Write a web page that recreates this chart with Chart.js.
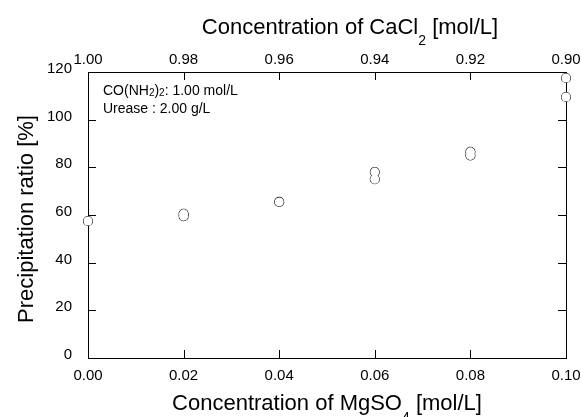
<!DOCTYPE html>
<html>
<head>
<meta charset="utf-8">
<script src="https://cdn.jsdelivr.net/npm/chart.js@4/dist/chart.umd.min.js"></script>
<style>
  html, body { margin: 0; padding: 0; background: #fff; }
  #wrap { width: 581px; height: 417px; }
</style>
</head>
<body>
<div id="wrap"><canvas id="chart" width="581" height="417"></canvas></div>
<script>
'use strict';

// data
const mgso4 = [0.00, 0.02, 0.02, 0.04, 0.06, 0.06, 0.08, 0.08, 0.10, 0.10];
const ratio = [57.5, 60.5, 59.5, 65.5, 78, 75, 86.5, 85, 117.5, 109.5];

const mgTicks = [0.00, 0.02, 0.04, 0.06, 0.08, 0.10];
const caTicks = [1.00, 0.98, 0.96, 0.94, 0.92, 0.90];
const yTicks = [0, 20, 40, 60, 80, 100, 120];

const FONT = '"Liberation Sans", Arial, sans-serif';
const points = mgso4.map((x, i) => ({ x: x, y: ratio[i] }));

function fixTicks(list) {
	return function(scale) {
		scale.ticks = list.map(v => ({ value: v }));
	};
}

// fixed box sizes so the plot area sits where it does in the picture
function fitH(h) {
	return function(s) {
		s.height = h;
		s.paddingLeft = 0;
		s.paddingRight = 0;
	};
}
function fitW(w) {
	return function(s) {
		s.width = w;
		s.paddingTop = 0;
		s.paddingBottom = 0;
	};
}

// ticks drawn inward + axis titles with subscripts + annotation
const decor = {
	id: 'decor',
	beforeDatasetsDraw(chart) {
		const ctx = chart.ctx;
		const a = chart.chartArea;
		const s = chart.scales;
		const len = 8;
		ctx.save();
		ctx.strokeStyle = '#000';
		ctx.lineWidth = 1;
		ctx.beginPath();
		mgTicks.forEach(v => {
			const px = Math.round(s.x.getPixelForValue(v)) + 0.5;
			ctx.moveTo(px, a.bottom);
			ctx.lineTo(px, a.bottom - len);
		});
		caTicks.forEach(v => {
			const px = Math.round(s.x2.getPixelForValue(v)) + 0.5;
			ctx.moveTo(px, a.top);
			ctx.lineTo(px, a.top + len);
		});
		yTicks.forEach(v => {
			const py = Math.round(s.y.getPixelForValue(v)) + 0.5;
			ctx.moveTo(a.left, py);
			ctx.lineTo(a.left + len, py);
			ctx.moveTo(a.right, py);
			ctx.lineTo(a.right - len, py);
		});
		ctx.stroke();
		ctx.restore();
	},
	afterDraw(chart) {
		const ctx = chart.ctx;
		const a = chart.chartArea;
		ctx.save();
		ctx.fillStyle = '#000';
		ctx.textBaseline = 'alphabetic';

		// pieces: [text, size, baseline shift]
		function run(parts, x, y, center) {
			let w = 0;
			parts.forEach(p => {
				ctx.font = p[1] + 'px ' + FONT;
				w += ctx.measureText(p[0]).width;
			});
			let cx = center ? x - w / 2 : x;
			ctx.textAlign = 'left';
			parts.forEach(p => {
				ctx.font = p[1] + 'px ' + FONT;
				ctx.fillText(p[0], cx, y + p[2]);
				cx += ctx.measureText(p[0]).width;
			});
		}

		run([['Concentration of CaCl', 22, 0], ['2', 14, 11], [' [mol/L]', 22, 0]], 350, 34, true);
		run([['Concentration of MgSO', 22, 0], ['4', 14, 12], [' [mol/L]', 22, 0]], (a.left + a.right) / 2, 410, true);

		ctx.save();
		ctx.translate(27, (a.top + a.bottom) / 2 + 4);
		ctx.rotate(-Math.PI / 2);
		ctx.font = '22px ' + FONT;
		ctx.textAlign = 'center';
		ctx.textBaseline = 'middle';
		ctx.fillText('Precipitation ratio [%]', 0, 0);
		ctx.restore();

		run([['CO(NH', 14, 0], ['2', 10, 1], [')', 14, 0], ['2', 10, 1], [': 1.00 mol/L', 14, 0]], 103, 95, false);
		run([['Urease : 2.00 g/L', 14, 0]], 103, 113, false);
		ctx.restore();
	}
};

const tickFont = { family: FONT, size: 15 };

new Chart(document.getElementById('chart'), {
	type: 'scatter',
	data: {
		datasets: [
			{
				// white underlay so the axis does not show through the circles
				data: points,
				pointRadius: 4.5,
				pointBorderWidth: 0,
				pointBackgroundColor: '#fff',
				clip: false
			},
			{
				data: points,
				pointRadius: 4.5,
				pointBorderWidth: 1.1,
				pointBorderColor: '#000',
				pointBackgroundColor: 'rgba(0,0,0,0)',
				clip: false
			}
		]
	},
	options: {
		responsive: false,
		animation: false,
		layout: { padding: 0 },
		plugins: {
			legend: { display: false },
			tooltip: { enabled: false }
		},
		scales: {
			x: {
				type: 'linear',
				position: 'bottom',
				min: 0,
				max: 0.1,
				afterBuildTicks: fixTicks(mgTicks),
				afterFit: fitH(59),
				grid: { display: false, drawTicks: false },
				border: { display: true, color: '#000', width: 1 },
				ticks: { font: tickFont, color: '#000', padding: 9, maxRotation: 0, callback: v => v.toFixed(2) }
			},
			x2: {
				type: 'linear',
				position: 'top',
				min: 0.9,
				max: 1.0,
				reverse: true,
				afterBuildTicks: fixTicks(caTicks),
				afterFit: fitH(72),
				grid: { display: false, drawTicks: false },
				border: { display: true, color: '#000', width: 1 },
				ticks: { font: tickFont, color: '#000', padding: 3, maxRotation: 0, callback: v => v.toFixed(2) }
			},
			y: {
				position: 'left',
				min: 0,
				max: 120,
				afterBuildTicks: fixTicks(yTicks),
				afterFit: fitW(88),
				grid: { display: false, drawTicks: false },
				border: { display: true, color: '#000', width: 1 },
				ticks: { font: tickFont, color: '#000', padding: 16, labelOffset: -3 }
			},
			y2: {
				position: 'right',
				min: 0,
				max: 120,
				afterBuildTicks: fixTicks(yTicks),
				afterFit: fitW(15),
				grid: { display: false, drawTicks: false },
				border: { display: true, color: '#000', width: 1 },
				ticks: { display: false }
			}
		}
	},
	plugins: [decor]
});
</script>
</body>
</html>
